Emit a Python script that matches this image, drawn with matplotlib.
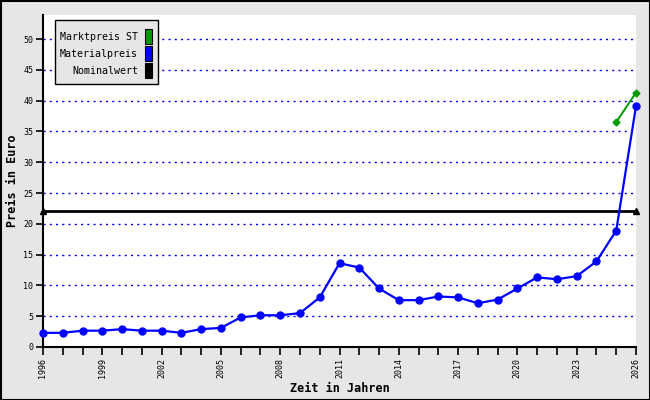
import matplotlib
matplotlib.use('Agg')
import matplotlib.pyplot as plt
from matplotlib.patches import Rectangle

# data
years = list(range(1996, 2027))
materialpreis = [2.3, 2.3, 2.65, 2.65, 2.9, 2.65, 2.65, 2.3, 2.9, 3.1,
                 4.8, 5.15, 5.15, 5.5, 8.05, 13.6, 12.9, 9.5, 7.6, 7.6,
                 8.2, 8.05, 7.1, 7.7, 9.5, 11.3, 11.0, 11.5, 13.9, 18.9, 39.1]
markt_years = [2025, 2026]
marktpreis = [36.5, 41.3]
nominal_years = [1996, 2026]
nominalwert = [22.0, 22.0]
yticks = list(range(0, 51, 5))
xlabel_years = list(range(1996, 2027, 3))
legend_labels = ['Marktpreis ST', 'Materialpreis', 'Nominalwert']
legend_colors = ['#009900', '#0000ff', '#000000']

mono = 'DejaVu Sans Mono'
W, H = 650, 400
fig = plt.figure(figsize=(W / 100, H / 100), dpi=100, facecolor='#e6e6e6')

# axes placed in pixel terms
L, R, T, B = 43, 636, 15, 347
ax = fig.add_axes([L / W, 1 - B / H, (R - L) / W, (B - T) / H])
ax.set_facecolor('white')
ax.set_xlim(1996, 2026)
ax.set_ylim(0, (B - T) / 308 * 50)

for y in yticks[1:]:
    ax.axhline(y, color='#0000ff', lw=1, ls=(0, (1.5, 3)), zorder=1)

ax.plot(nominal_years, nominalwert, color='black', lw=2, marker='^', ms=5,
        zorder=3, clip_on=False)
ax.plot(years, materialpreis, color='#0000ff', lw=1.6, marker='o', ms=5,
        zorder=4, clip_on=False)
ax.plot(markt_years, marktpreis, color='#009900', lw=1.4, marker='D', ms=3.5,
        zorder=5, clip_on=False)

for s in ['top', 'right']:
    ax.spines[s].set_visible(False)
ax.spines['left'].set_linewidth(1.5)
ax.spines['bottom'].set_linewidth(1.5)

ax.set_yticks(yticks)
ax.set_yticklabels([str(v) for v in yticks], fontfamily=mono, fontsize=6)
ax.set_xticks(years)
ax.set_xticklabels([str(y) if y in xlabel_years else '' for y in years],
                   fontfamily=mono, fontsize=6, rotation=90)
ax.tick_params(axis='both', direction='out', length=5, width=1.2, pad=2)
ax.tick_params(axis='x', length=6)

ax.set_ylabel('Preis in Euro', fontfamily=mono, fontsize=8.5, fontweight='bold', labelpad=3)
ax.set_xlabel('Zeit in Jahren', fontfamily=mono, fontsize=8.5, fontweight='bold', labelpad=3)

# overlay in pixel coords for frame and legend
ov = fig.add_axes([0, 0, 1, 1], facecolor='none')
ov.set_xlim(0, W)
ov.set_ylim(H, 0)
ov.axis('off')
ov.add_patch(Rectangle((0.5, 0.5), W - 1, H - 1, fill=False, ec='black', lw=1.5))
ov.add_patch(Rectangle((55, 20), 103, 64, fc='#e6e6e6', ec='black', lw=1, zorder=5))
for i, (lab, col) in enumerate(zip(legend_labels, legend_colors)):
    yc = 37 + i * 17
    ov.text(138, yc, lab, ha='right', va='center', fontfamily=mono, fontsize=7.2, zorder=6)
    ov.add_patch(Rectangle((145, yc - 8), 7, 15, fc=col, ec='black', lw=0.8, zorder=6))

fig.savefig('out.png', dpi=100, facecolor=fig.get_facecolor())
